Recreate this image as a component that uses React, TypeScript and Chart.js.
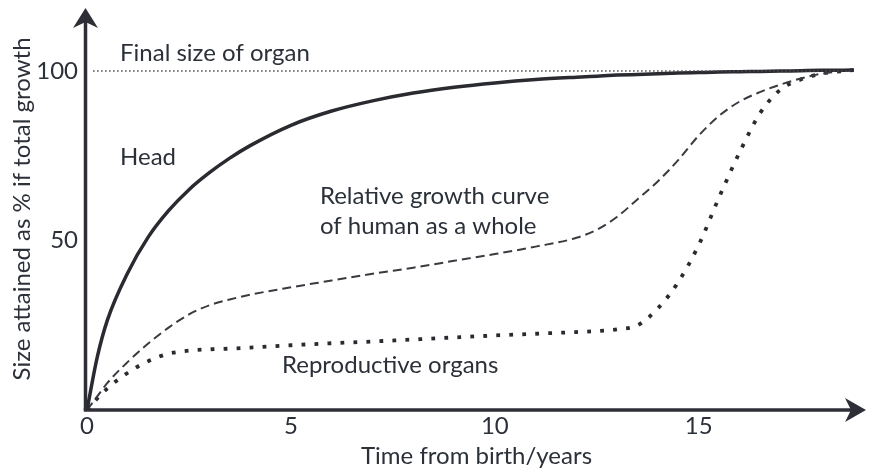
import React, { useEffect, useRef } from 'react';
import { Chart, registerables } from 'chart.js';

Chart.register(...registerables);

// ---- data ----
const years = [0, 0.25, 0.5, 1, 1.5, 2, 2.5, 3, 3.5, 4, 5, 6, 7, 8, 9, 10, 11, 12, 12.5, 13, 13.5, 14, 14.5, 15, 15.5, 16, 16.5, 17, 17.5, 18, 18.8];
const headSize = [0, 15.5, 26.5, 40.5, 51, 58.8, 65, 70, 74.3, 78, 84, 88.2, 91.2, 93.5, 95.2, 96.5, 97.5, 98.2, 98.5, 98.8, 99, 99.2, 99.4, 99.55, 99.7, 99.8, 99.9, 100, 100.1, 100.2, 100.3];
const wholeSize = [0, 4, 8, 14.2, 19.6, 24.3, 28.2, 30.9, 32.6, 34, 36.2, 38.2, 40.2, 42, 44, 46, 48.2, 50.8, 53.2, 57, 62.2, 67.5, 73.8, 81, 86.8, 91, 93.8, 96, 97.8, 99.2, 100.3];
const reproSize = [0, 3.4, 6.4, 11, 14.4, 16.6, 17.5, 17.9, 18.1, 18.4, 19.1, 19.7, 20.2, 20.8, 21.4, 22, 22.5, 23, 23.3, 23.8, 25, 30, 37.8, 48.7, 62.8, 76, 87.5, 94.5, 97.5, 99.2, 100.3];
const finalYears = [0.15, 18.8];
const finalSize = [100, 100];
const xTickValues = [0, 5, 10, 15];
const yTickValues = [50, 100];

const xTitle = 'Time from birth/years';
const yTitle = 'Size attained as % if total growth';

const labels = [
  { text: 'Final size of organ', x: 0.81, y: 102.9 },
  { text: 'Head', x: 0.81, y: 72.3 },
  { text: 'Relative growth curve', x: 5.71, y: 60.8 },
  { text: 'of human as a whole', x: 5.71, y: 51.8 },
  { text: 'Reproductive organs', x: 4.78, y: 10.8 },
];

const TEXT = '#2b3039';
const AXIS = '#2e2f36';
const FONT = 'Lato, "Open Sans", sans-serif';
const FS = 24;

const toPts = (xs: number[], ys: number[]) => xs.map((x, i) => ({ x, y: ys[i] }));

const overlay = {
  id: 'overlay',
  afterDraw(chart: any) {
    const { ctx } = chart;
    const xs = chart.scales.x;
    const ys = chart.scales.y;
    const x0 = xs.getPixelForValue(0) - 1.5;
    const y0 = ys.getPixelForValue(0);
    const xEnd = xs.right;
    const yEnd = ys.top;
    ctx.save();
    ctx.strokeStyle = AXIS;
    ctx.fillStyle = AXIS;
    ctx.lineWidth = 3.5;
    ctx.lineCap = 'butt';
    ctx.beginPath();
    ctx.moveTo(x0 - 1.75, y0);
    ctx.lineTo(xEnd - 12, y0);
    ctx.stroke();
    ctx.beginPath();
    ctx.moveTo(x0, y0);
    ctx.lineTo(x0, yEnd + 12);
    ctx.stroke();
    // right arrow
    ctx.beginPath();
    ctx.moveTo(xEnd, y0);
    ctx.lineTo(xEnd - 21, y0 - 12);
    ctx.lineTo(xEnd - 15, y0);
    ctx.lineTo(xEnd - 21, y0 + 12);
    ctx.closePath();
    ctx.fill();
    // top arrow
    ctx.beginPath();
    ctx.moveTo(x0, yEnd);
    ctx.lineTo(x0 - 12.5, yEnd + 20);
    ctx.lineTo(x0, yEnd + 14);
    ctx.lineTo(x0 + 12.5, yEnd + 20);
    ctx.closePath();
    ctx.fill();
    // labels
    ctx.font = `${FS}px ${FONT}`;
    ctx.fillStyle = TEXT;
    ctx.textAlign = 'left';
    ctx.textBaseline = 'alphabetic';
    labels.forEach((l) => {
      ctx.fillText(l.text, xs.getPixelForValue(l.x), ys.getPixelForValue(l.y));
    });
    ctx.restore();
  },
};

export default function App() {
  const ref = useRef<HTMLCanvasElement | null>(null);
  useEffect(() => {
    if (!ref.current) return;
    const lineBase = { pointRadius: 0, fill: false, cubicInterpolationMode: 'monotone' as const };
    const chart = new Chart(ref.current, {
      type: 'line',
      data: {
        datasets: [
          {
            ...lineBase,
            label: 'Final size of organ',
            data: toPts(finalYears, finalSize),
            borderColor: '#4a4a50',
            borderWidth: 1.5,
            borderDash: [1.5, 2.5],
          },
          {
            ...lineBase,
            label: 'Head',
            data: toPts(years, headSize),
            borderColor: '#2a2b31',
            borderWidth: 3.5,
          },
          {
            ...lineBase,
            label: 'Relative growth curve of human as a whole',
            data: toPts(years, wholeSize),
            borderColor: '#3a3b40',
            borderWidth: 2,
            borderDash: [9, 5],
          },
          {
            ...lineBase,
            label: 'Reproductive organs',
            data: toPts(years, reproSize),
            borderColor: '#2a2b31',
            borderWidth: 3.8,
            borderDash: [3.8, 9.2],
          },
        ],
      },
      options: {
        animation: false,
        responsive: false,
        devicePixelRatio: 1,
        layout: { padding: { top: 8, right: 7, left: 0, bottom: 0 } },
        plugins: { legend: { display: false }, tooltip: { enabled: false } },
        scales: {
          x: {
            type: 'linear',
            min: 0,
            max: 19.1,
            afterBuildTicks: (s: any) => {
              s.ticks = xTickValues.map((v) => ({ value: v }));
            },
            afterFit: (s: any) => {
              s.height = 62;
              s.paddingLeft = 0;
              s.paddingRight = 0;
            },
            grid: { display: false, drawTicks: false },
            border: { display: false },
            ticks: {
              autoSkip: false,
              maxRotation: 0,
              padding: 2,
              color: TEXT,
              font: { family: FONT, size: FS },
            },
            title: {
              display: true,
              text: xTitle,
              color: TEXT,
              font: { family: FONT, size: FS },
              padding: { top: 0, bottom: 1 },
            },
          },
          y: {
            type: 'linear',
            min: 0,
            max: 118.6,
            afterBuildTicks: (s: any) => {
              s.ticks = yTickValues.map((v) => ({ value: v }));
            },
            afterFit: (s: any) => {
              s.width = 87;
              s.paddingTop = 0;
              s.paddingBottom = 0;
            },
            grid: { display: false, drawTicks: false },
            border: { display: false },
            ticks: {
              autoSkip: false,
              padding: 9,
              color: TEXT,
              font: { family: FONT, size: FS },
            },
            title: {
              display: true,
              text: yTitle,
              color: TEXT,
              font: { family: FONT, size: FS },
              padding: { top: 8, bottom: 0 },
            },
          },
        },
      },
      plugins: [overlay],
    });
    return () => chart.destroy();
  }, []);
  return (
    <div style={{ position: 'absolute', left: 0, top: 0, width: 873, height: 472, background: '#fff' }}>
      <canvas ref={ref} width={873} height={472} style={{ display: 'block' }} />
    </div>
  );
}
